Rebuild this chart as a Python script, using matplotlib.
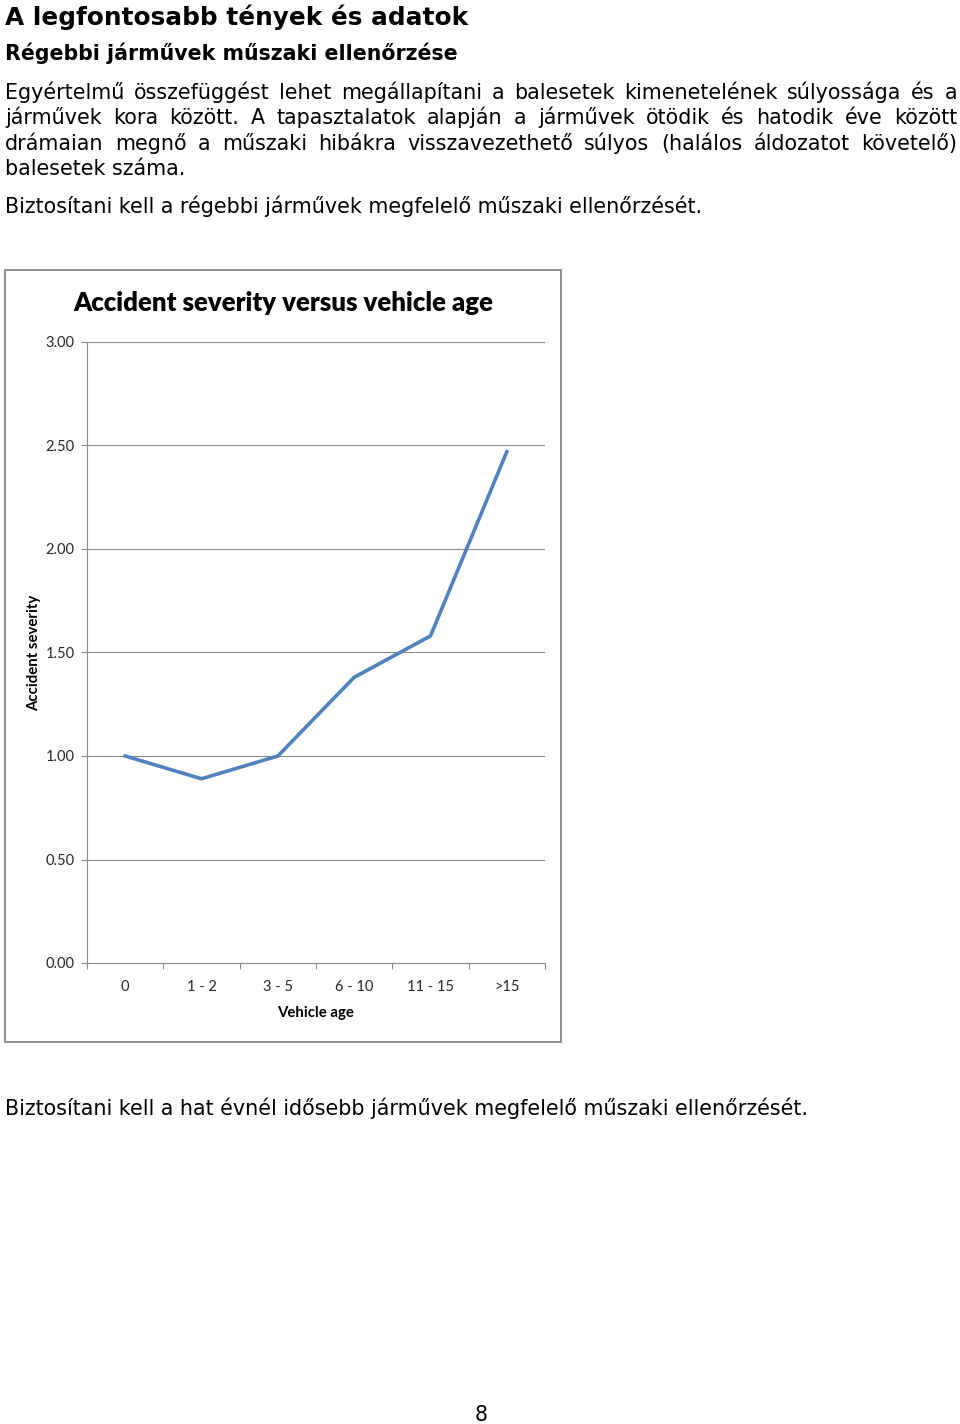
import matplotlib
matplotlib.use("Agg")
import matplotlib.pyplot as plt
from matplotlib.patches import Rectangle

# Data
age_groups = ["0", "1 - 2", "3 - 5", "6 - 10", "11 - 15", ">15"]
severity = [1.00, 0.89, 1.00, 1.38, 1.58, 2.47]
y_ticks = [0.0, 0.5, 1.0, 1.5, 2.0, 2.5, 3.0]

heading = "A legfontosabb tények és adatok"
subheading = "Régebbi járművek műszaki ellenőrzése"
paragraph_lines = [
    "Egyértelmű összefüggést lehet megállapítani a balesetek kimenetelének súlyossága és a",
    "járművek kora között. A tapasztalatok alapján a járművek ötödik és hatodik éve között",
    "drámaian megnő a műszaki hibákra visszavezethető súlyos (halálos áldozatot követelő)",
    "balesetek száma.",
]
note_top = "Biztosítani kell a régebbi járművek megfelelő műszaki ellenőrzését."
note_bottom = "Biztosítani kell a hat évnél idősebb járművek megfelelő műszaki ellenőrzését."
page_number = "8"

W, H = 960, 1424
fig = plt.figure(figsize=(W / 100, H / 100), dpi=100)
fig.patch.set_facecolor("white")
renderer = fig.canvas.get_renderer()

body_font = "DejaVu Sans"
chart_font = "Lato"
body_size = 14.9


def fx(px):
    return px / W


def fy(py):
    return 1 - py / H


def body(x, y, s, **kw):
    kw.setdefault("fontsize", body_size)
    return fig.text(fx(x), fy(y), s, family=body_font, va="baseline", **kw)


def justified(line, y, x0=5, x1=957):
    # place the words one by one so the line fills the width
    words = line.split(" ")
    texts = [body(0, y, w) for w in words]
    widths = [t.get_window_extent(renderer).width for t in texts]
    gap = (x1 - x0 - sum(widths)) / (len(words) - 1)
    x = x0
    for t, w in zip(texts, widths):
        t.set_x(fx(x))
        x += w + gap


# Page text (y = baselines in px)
body(5, 25, heading, fontsize=17.8, fontweight="bold")
body(5, 59.5, subheading, fontsize=14.8, fontweight="bold")
line_y = [99, 124.3, 149.6, 175]
for line, y in zip(paragraph_lines[:-1], line_y[:-1]):
    justified(line, y)
body(5, line_y[-1], paragraph_lines[-1])
body(5, 213, note_top)
body(5, 1115, note_bottom)
body(481, 1421, page_number, ha="center")

# Chart frame
fig.patches.append(Rectangle((fx(5), fy(1042)), fx(556), 772 / H, transform=fig.transFigure,
                             facecolor="white", edgecolor="#8c8c8c", linewidth=1.4, zorder=-1))
fig.text(fx(283), fy(303), "Accident severity versus vehicle age", fontsize=18.5,
         fontweight="heavy", family=chart_font, ha="center", va="center")

# Chart
ax = fig.add_axes([fx(87), fy(963), fx(545 - 87), (963 - 342) / H])
ax.set_facecolor("none")
x = list(range(len(age_groups)))
ax.plot(x, severity, color="#4f81bd", linewidth=2.6, solid_joinstyle="round", zorder=3)

ax.set_xlim(-0.5, len(age_groups) - 0.5)
ax.set_ylim(0, 3)
ax.set_yticks(y_ticks)
ax.set_yticklabels([f"{v:.2f}" for v in y_ticks])
ax.set_xticks(x)
ax.set_xticklabels(age_groups)
ax.set_xticks([i - 0.5 for i in range(len(age_groups) + 1)], minor=True)
ax.grid(axis="y", color="#8a8a8a", linewidth=0.8)
ax.set_axisbelow(True)

for s in ["top", "right"]:
    ax.spines[s].set_visible(False)
for s in ["left", "bottom"]:
    ax.spines[s].set_color("#8a8a8a")
    ax.spines[s].set_linewidth(0.8)

ax.tick_params(axis="y", length=4, width=0.8, color="#8a8a8a", pad=5, labelsize=10.5)
ax.tick_params(axis="x", which="major", length=0, pad=12, labelsize=10.5)
ax.tick_params(axis="x", which="minor", length=4, width=0.8, color="#8a8a8a")
for lab in ax.get_xticklabels() + ax.get_yticklabels():
    lab.set_family(chart_font)
    lab.set_color("#262626")

ax.set_xlabel("Vehicle age", fontsize=10.8, fontweight="bold", family=chart_font, labelpad=9)
ax.set_ylabel("Accident severity", fontsize=10.8, fontweight="bold", family=chart_font)
ax.yaxis.set_label_coords((41 - 87) / (545 - 87), 0.5)

fig.savefig("out.png", dpi=100, facecolor="white")
